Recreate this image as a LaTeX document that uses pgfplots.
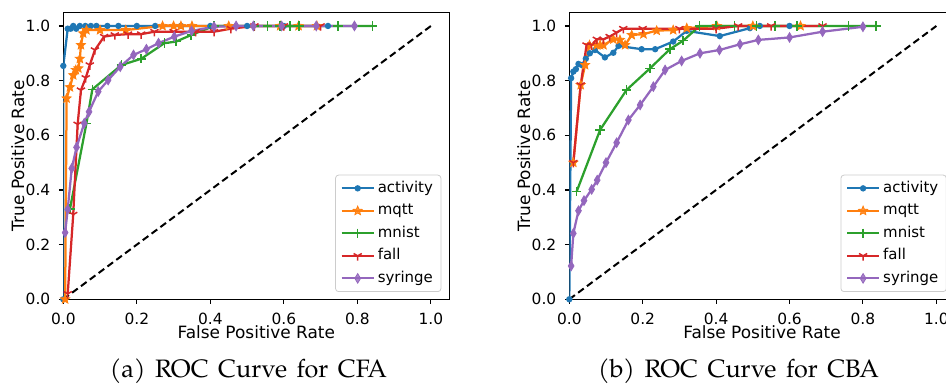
\documentclass[border=0pt]{standalone}
\usepackage{pgfplots}
\pgfplotsset{compat=1.18}
\usepackage{fontspec}
\newfontfamily\dv{DejaVu Sans}
\newfontfamily\pal{TeX Gyre Pagella}
\usetikzlibrary{plotmarks}
\definecolor{cA}{HTML}{1F77B4}
\definecolor{cB}{HTML}{FF7F0E}
\definecolor{cC}{HTML}{2CA02C}
\definecolor{cD}{HTML}{D62728}
\definecolor{cE}{HTML}{9467BD}
\pgfdeclareplotmark{fstar}{%
  \pgfpathmoveto{\pgfpointpolar{90}{\pgfplotmarksize}}%
  \pgfpathlineto{\pgfpointpolar{126}{0.45\pgfplotmarksize}}%
  \pgfpathlineto{\pgfpointpolar{162}{\pgfplotmarksize}}%
  \pgfpathlineto{\pgfpointpolar{198}{0.45\pgfplotmarksize}}%
  \pgfpathlineto{\pgfpointpolar{234}{\pgfplotmarksize}}%
  \pgfpathlineto{\pgfpointpolar{270}{0.45\pgfplotmarksize}}%
  \pgfpathlineto{\pgfpointpolar{306}{\pgfplotmarksize}}%
  \pgfpathlineto{\pgfpointpolar{342}{0.45\pgfplotmarksize}}%
  \pgfpathlineto{\pgfpointpolar{18}{\pgfplotmarksize}}%
  \pgfpathlineto{\pgfpointpolar{54}{0.45\pgfplotmarksize}}%
  \pgfpathclose\pgfusepathqfillstroke}
\pgfplotsset{
  rocaxis/.style={
    scale only axis, width=386bp, height=287bp,
    xmin=0, xmax=1.05, ymin=0, ymax=1.05,
    xtick={0,0.2,0.4,0.6,0.8,1.0}, ytick={0,0.2,0.4,0.6,0.8,1.0},
    /pgf/number format/fixed, /pgf/number format/fixed zerofill,
    /pgf/number format/precision=1,
    /pgf/number format/assume math mode=true,
    tick label style={font=\dv\fontsize{15.5}{18}\selectfont, inner sep=0pt},
    xticklabel style={anchor=base, yshift=-20.5bp},
    yticklabel style={anchor=east, xshift=-8.3bp},
    tick align=outside, tick pos=left, major tick length=4.5bp,
    every tick/.style={black, line width=1.1bp},
    axis line style={line width=1.1bp},
    label style={font=\dv\fontsize{17}{20}\selectfont, inner sep=0pt},
    xlabel={False Positive Rate}, ylabel={True Positive Rate},
    xlabel style={at={(axis description cs:0.5,0)}, anchor=base, yshift=-39.5bp},
    ylabel style={at={(axis description cs:-0.1016,0.5)}, anchor=base},
    legend style={at={(axis description cs:1,0)}, anchor=south east,
      xshift=-8bp, yshift=7.3bp, draw=black!20, line width=0.8bp,
      rounded corners=3bp, fill=white, fill opacity=0.8, text opacity=1,
      font=\dv\fontsize{15}{18}\selectfont, inner xsep=5bp, inner ysep=4bp,
      row sep=4bp,
      nodes={inner xsep=3bp, inner ysep=2bp, text height=11bp, text depth=3.5bp},
      /tikz/every even column/.append style={column sep=12bp}},
    legend cell align=left,
    legend image code/.code={\draw[mark repeat=2,mark phase=2] plot coordinates {(0bp,0bp) (16bp,0bp) (32bp,0bp)};},
    every axis plot/.append style={line width=2.25bp},
  },
  sA/.style={color=cA, mark=*, mark size=2bp, mark options={solid}},
  sB/.style={color=cB, mark=fstar, mark size=4.7bp, mark options={solid, line width=0.8bp}},
  sC/.style={color=cC, mark=+, mark size=4.7bp, mark options={solid, line width=1.5bp}},
  sD/.style={color=cD, mark=Mercedes star flipped, mark size=4.7bp, mark options={solid, line width=1.5bp}},
  sE/.style={color=cE, mark=diamond*, mark size=4.8bp, mark options={solid, xscale=0.8, line width=0.8bp}},
}
\begin{document}
\begin{tikzpicture}
\useasboundingbox (0,0) rectangle (946bp,388bp);
\clip (0,0) rectangle (946bp,388bp);
% ---------- (a) CFA ----------
\begin{axis}[rocaxis, at={(63.3bp,88.7bp)}, anchor=south west]
\addplot[sA] coordinates {(0,0) (0,0.854) (0.012,0.99) (0.02,0.99) (0.027,1.0) (0.035,0.99) (0.045,1.0) (0.06,1.0) (0.075,1.0) (0.09,1.0) (0.12,1.0) (0.15,1.0) (0.2,1.0) (0.25,1.0) (0.32,1.0) (0.4,1.0) (0.5,1.0) (0.6,1.0) (0.72,1.0)};
\addlegendentry{activity}
\addplot[sB] coordinates {(0.005,0) (0.009,0.735) (0.018,0.776) (0.027,0.82) (0.034,0.839) (0.041,0.845) (0.045,0.88) (0.048,0.93) (0.054,0.973) (0.063,0.985) (0.1,0.985) (0.17,0.985) (0.27,1.0) (0.3,1.0) (0.32,1.0) (0.35,1.0) (0.45,1.0) (0.59,1.0) (0.64,1.0) (0.69,1.0)};
\addlegendentry{mqtt}
\addplot[sC] coordinates {(0.018,0.33) (0.063,0.644) (0.079,0.768) (0.158,0.857) (0.212,0.88) (0.275,0.937) (0.307,0.943) (0.348,0.967) (0.41,1.0) (0.52,1.0) (0.555,1.0) (0.59,1.0) (0.616,1.0) (0.641,1.0) (0.747,1.0) (0.841,1.0)};
\addlegendentry{mnist}
\addplot[sD] coordinates {(0.012,0.02) (0.027,0.31) (0.039,0.64) (0.048,0.765) (0.061,0.81) (0.072,0.857) (0.086,0.912) (0.111,0.961) (0.14,0.967) (0.176,0.97) (0.212,0.97) (0.248,0.979) (0.30,0.979) (0.36,0.979) (0.41,0.979) (0.456,0.99) (0.52,1.0) (0.6,1.0) (0.7,1.0)};
\addlegendentry{fall}
\addplot[sE] coordinates {(0.005,0.244) (0.012,0.329) (0.023,0.479) (0.036,0.556) (0.057,0.644) (0.07,0.686) (0.095,0.76) (0.122,0.802) (0.155,0.851) (0.191,0.894) (0.226,0.915) (0.259,0.937) (0.302,0.961) (0.349,0.982) (0.41,0.997) (0.47,1.0) (0.517,1.0) (0.594,1.0) (0.688,1.0) (0.792,1.0)};
\addlegendentry{syringe}
\addplot[forget plot, black, dashed, line width=2bp, dash pattern=on 7bp off 4bp] coordinates {(0,0) (1,1)};
\end{axis}
% ---------- (b) CBA ----------
\begin{axis}[rocaxis, at={(569.3bp,88.7bp)}, anchor=south west, width=385.4bp]
\addplot[sA] coordinates {(0,0) (0.005,0.809) (0.011,0.833) (0.018,0.842) (0.025,0.861) (0.034,0.857) (0.045,0.88) (0.056,0.9) (0.07,0.912) (0.097,0.885) (0.12,0.902) (0.134,0.927) (0.197,0.915) (0.234,0.915) (0.283,0.943) (0.32,0.982) (0.41,0.963) (0.492,0.992) (0.519,1.0) (0.6,1.0)};
\addlegendentry{activity}
\addplot[sB] coordinates {(0.011,0.5) (0.031,0.784) (0.043,0.857) (0.055,0.93) (0.075,0.93) (0.084,0.93) (0.093,0.93) (0.12,0.951) (0.138,0.949) (0.152,0.93) (0.17,0.967) (0.202,0.97) (0.238,0.983) (0.283,0.985) (0.32,0.992) (0.402,1.0) (0.5,1.0) (0.63,1.0)};
\addlegendentry{mqtt}
\addplot[sC] coordinates {(0.02,0.394) (0.084,0.62) (0.156,0.766) (0.22,0.845) (0.274,0.915) (0.31,0.946) (0.355,1.0) (0.4,1.0) (0.45,1.0) (0.51,1.0) (0.56,1.0) (0.62,1.0) (0.69,1.0) (0.76,1.0) (0.836,1.0)};
\addlegendentry{mnist}
\addplot[sD] coordinates {(0.011,0.5) (0.031,0.784) (0.047,0.93) (0.06,0.93) (0.075,0.951) (0.093,0.951) (0.11,0.961) (0.129,0.976) (0.147,0.99) (0.2,0.99) (0.3,0.99) (0.4,0.99) (0.46,1.0) (0.55,1.0) (0.69,1.0)};
\addlegendentry{fall}
\addplot[sE] coordinates {(0.005,0.122) (0.011,0.241) (0.025,0.324) (0.04,0.361) (0.061,0.402) (0.076,0.436) (0.1,0.5) (0.129,0.573) (0.161,0.656) (0.193,0.711) (0.229,0.778) (0.261,0.839) (0.306,0.872) (0.356,0.9) (0.409,0.912) (0.465,0.933) (0.515,0.949) (0.6,0.958) (0.69,0.979) (0.8,0.997)};
\addlegendentry{syringe}
\addplot[forget plot, black, dashed, line width=2bp, dash pattern=on 7bp off 4bp] coordinates {(0,0) (1,1)};
\end{axis}
\node[anchor=base, font=\pal\fontsize{25.3}{29}\selectfont, inner sep=0pt] at (248.5bp,11bp) {(a)\hspace{0.38em}ROC\hspace{0.38em}Curve\hspace{0.38em}for\hspace{0.38em}CFA};
\node[anchor=base, font=\pal\fontsize{25.3}{29}\selectfont, inner sep=0pt] at (738.5bp,11bp) {(b)\hspace{0.38em}ROC\hspace{0.38em}Curve\hspace{0.38em}for\hspace{0.38em}CBA};
\end{tikzpicture}
\end{document}
